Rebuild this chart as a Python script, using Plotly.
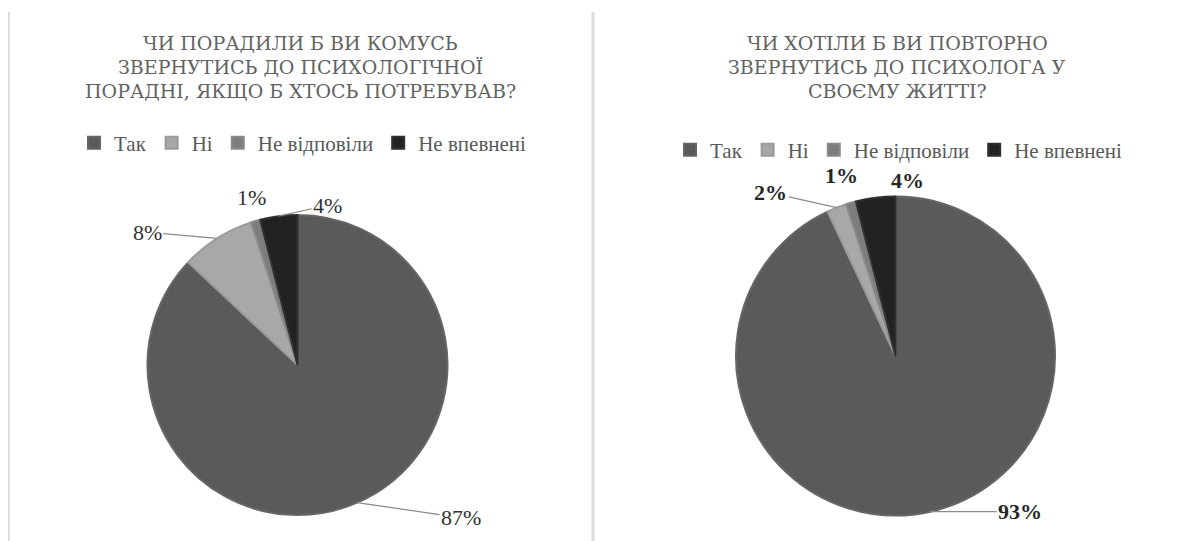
import math
import plotly.graph_objects as go

# ---------------- data ----------------
categories = ["Так", "Ні", "Не відповіли", "Не впевнені"]
values_left = [87, 8, 1, 4]
values_right = [93, 2, 1, 4]
title_left = ["ЧИ ПОРАДИЛИ Б ВИ КОМУСЬ", "ЗВЕРНУТИСЬ ДО ПСИХОЛОГІЧНОЇ", "ПОРАДНІ, ЯКЩО Б ХТОСЬ ПОТРЕБУВАВ?"]
title_right = ["ЧИ ХОТІЛИ Б ВИ ПОВТОРНО", "ЗВЕРНУТИСЬ ДО ПСИХОЛОГА У", "СВОЄМУ ЖИТТІ?"]

# ---------------- style ----------------
OFF = 8  # page body margin of the exported html
W, H = 1187 - OFF, 541 - OFF
FONT_T = "DejaVu Serif"
FONT_L = "Liberation Serif"
FONT_V = "Liberation Serif"
slice_colors = ["#5a5a5a", "#a8a8a8", "#7d7d7d", "#222222"]
edge_colors = ["#666666", "#9a9a9a", "#8a8a8a", "#303030"]
title_color = "#626262"


def X(px):
    return (px - OFF) / W


def Y(py):
    return 1 - (py - OFF) / H


pies = [
    dict(values=values_left, cx=297.5, cy=365, r=150, legend="legend", group="left",
         title=title_left, tx=300, lx=303, ly=143, bold=False,
         offs=[(104, 15, True), (-70, -6, True), (-4, -23, False), (49, -11, True)]),
    dict(values=values_right, cx=895.5, cy=356, r=159.5, legend="legend2", group="right",
         title=title_right, tx=897, lx=899, ly=150, bold=True,
         offs=[(90, 0, True), (-66, -15, True), (-10, -27, False), (32, -17, False)]),
]

fig = go.Figure()
annotations = []

for p in pies:
    dom_x = [X(p["cx"] - p["r"]), X(p["cx"] + p["r"])]
    dom_y = [Y(p["cy"] + p["r"]), Y(p["cy"] - p["r"])]
    fig.add_trace(go.Pie(
        labels=categories, values=p["values"], sort=False,
        direction="clockwise", rotation=0, textinfo="none",
        marker=dict(colors=slice_colors, line=dict(color=edge_colors, width=2)),
        domain=dict(x=dom_x, y=dom_y), legend=p["legend"], legendgroup=p["group"],
        hoverinfo="label+percent",
    ))
    total = sum(p["values"])
    cum = 0
    for v, (dx, dy, line) in zip(p["values"], p["offs"]):
        mid = (cum + v / 2) / total * 2 * math.pi
        cum += v
        px = p["cx"] + p["r"] * math.sin(mid)
        py = p["cy"] - p["r"] * math.cos(mid)
        txt = f"{round(v / total * 100)}%"
        if p["bold"]:
            txt = f"<b>{txt}</b>"
        font = dict(family=FONT_V, size=22, color="#262626" if p["bold"] else "#333333")
        if line:
            annotations.append(dict(
                x=X(px), y=Y(py), xref="paper", yref="paper",
                text=txt, showarrow=True, ax=dx, ay=dy, arrowhead=0,
                arrowwidth=1.2, arrowcolor="#8a8a8a", standoff=0, font=font))
        else:
            annotations.append(dict(
                x=X(px), y=Y(py), xref="paper", yref="paper",
                xanchor="center", yanchor="middle",
                text=txt, showarrow=False, xshift=dx, yshift=-dy, font=font))
    for i, line_txt in enumerate(p["title"]):
        annotations.append(dict(
            x=X(p["tx"]), y=Y(43 + 24 * i), xref="paper", yref="paper",
            text=line_txt, showarrow=False, xanchor="center", yanchor="middle",
            font=dict(family=FONT_T, size=19, color=title_color)))

legend_common = dict(orientation="h", xanchor="center", yanchor="middle",
                     traceorder="normal",
                     font=dict(family=FONT_L, size=21, color="#595959"),
                     itemwidth=30, bgcolor="rgba(0,0,0,0)")
fig.update_layout(
    width=W, height=H, margin=dict(l=0, r=0, t=0, b=0),
    paper_bgcolor="white", plot_bgcolor="white",
    annotations=annotations,
    legend=dict(x=X(pies[0]["lx"]), y=Y(pies[0]["ly"]), **legend_common),
    legend2=dict(x=X(pies[1]["lx"]), y=Y(pies[1]["ly"]), **legend_common),
    shapes=[
        dict(type="line", xref="paper", yref="paper", x0=X(8.5), x1=X(8.5),
             y0=0, y1=Y(12), line=dict(color="#dcdcdc", width=3)),
        dict(type="line", xref="paper", yref="paper", x0=X(593), x1=X(593),
             y0=0, y1=Y(12), line=dict(color="#dcdcdc", width=3)),
    ],
)

fig.write_html("out.html")
